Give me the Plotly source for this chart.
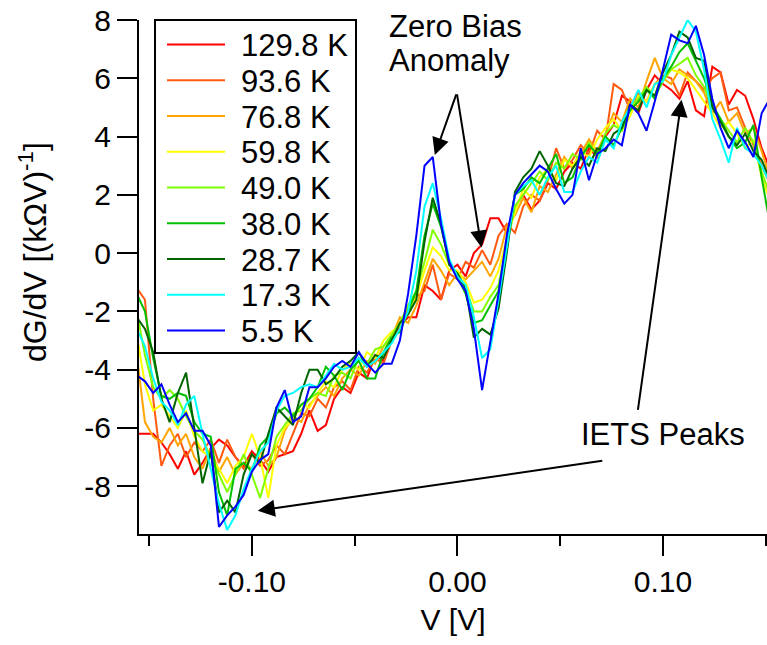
import numpy as np
import plotly.graph_objects as go

# Bias sweep (V), uniform 4 mV steps
bias = np.round(np.arange(-0.156, 0.1521, 0.004), 3)

temps = ["129.8 K", "93.6 K", "76.8 K", "59.8 K", "49.0 K", "38.0 K", "28.7 K", "17.3 K", "5.5 K"]
colors = ["#ff0000", "#ff5a10", "#ffa500", "#ffff00", "#80ff00", "#00c000", "#006400", "#00ffff", "#0000ff"]

# dG/dV [(kOhm V)^-1] for each temperature
g_129_8 = [-6.2, -6.2, -6.2, -6.5, -6.9, -7.4, -6.8, -7.6, -7.2, -6.7, -6.4, -6.6, -7.0, -7.3, -6.8, -7.1,
           -7.5, -7.0, -6.9, -6.8, -6.2, -5.4, -6.1, -5.9, -5.0, -4.6, -4.8, -4.1, -4.3, -3.5, -3.7, -3.0,
           -2.5, -2.2, -2.2, -1.1, -1.3, -1.6, -0.6, -0.4, -0.8, 0.0, 0.3, 1.2, 1.2, 0.7, 1.6, 2.0,
           1.5, 1.8, 2.4, 2.2, 2.8, 3.1, 2.9, 3.6, 3.3, 4.0, 4.4, 5.4, 5.2, 4.8, 5.6, 6.1,
           5.8, 5.6, 5.3, 5.9, 4.9, 4.7, 6.4, 6.2, 5.1, 5.6, 5.4, 4.6, 3.6, 2.9]
g_93_6 = [-1.2, -1.6, -5.0, -7.3, -6.6, -6.2, -7.0, -6.5, -6.8, -6.4, -7.2, -6.4, -7.0, -7.4, -6.9, -7.3,
          -7.1, -6.6, -6.9, -6.2, -5.5, -5.6, -5.0, -5.3, -4.6, -4.4, -4.7, -3.9, -4.1, -3.6, -3.8, -3.0,
          -2.4, -1.9, -1.5, -1.3, -0.4, -1.6, -0.7, -0.9, -0.3, -0.5, 0.1, -0.4, 0.6, 1.0, 0.7, 1.6,
          2.0, 1.8, 2.5, 3.6, 2.9, 3.2, 3.7, 3.4, 4.2, 3.9, 5.8, 5.6, 4.9, 5.5, 5.2, 5.8,
          6.1, 6.0, 5.4, 6.2, 5.9, 5.6, 6.0, 6.2, 4.9, 5.0, 4.3, 3.7, 3.0, 2.4]
g_76_8 = [-3.5, -5.8, -6.3, -6.5, -6.0, -6.6, -6.2, -7.0, -7.4, -6.7, -7.5, -7.0, -7.6, -7.2, -7.4, -6.8,
          -7.3, -7.0, -6.1, -5.6, -5.8, -5.2, -4.9, -4.6, -4.9, -4.3, -4.0, -4.2, -3.7, -3.8, -3.2, -2.9,
          -2.2, -2.4, -1.8, -1.0, -0.2, -0.6, -1.1, -0.7, -0.9, -0.6, -0.3, -0.8, -0.2, 0.9, 1.3, 1.9,
          1.4, 2.3, 2.1, 2.7, 3.3, 2.9, 3.4, 3.9, 3.5, 4.1, 4.8, 4.5, 5.3, 5.0, 5.9, 6.7,
          6.0, 5.8, 6.3, 6.1, 5.9, 5.5, 4.8, 5.2, 4.5, 4.8, 4.1, 4.3, 3.5, 2.6]
g_59_8 = [-2.8, -4.5, -5.4, -5.2, -5.6, -6.0, -5.4, -6.3, -6.8, -7.0, -7.4, -7.9, -7.3, -7.0, -6.2, -7.0,
          -8.4, -6.6, -6.0, -5.7, -5.2, -5.3, -4.8, -4.4, -4.6, -4.0, -3.8, -4.0, -3.4, -3.6, -3.0, -2.7,
          -2.5, -2.1, -1.5, -0.6, 0.2, -0.1, -0.6, -0.6, -1.0, -1.7, -1.6, -1.2, -0.6, 0.5, 1.4, 2.2,
          1.9, 2.6, 2.9, 2.5, 3.2, 3.0, 3.5, 3.3, 3.9, 4.3, 4.6, 4.2, 4.7, 5.4, 5.2, 5.8,
          6.0, 6.3, 6.2, 6.0, 5.6, 5.2, 4.8, 4.3, 4.5, 4.1, 3.6, 3.9, 2.6, 1.8]
g_49_0 = [-2.0, -3.5, -4.6, -5.0, -4.7, -5.0, -5.6, -6.1, -6.4, -7.0, -7.6, -8.2, -7.6, -6.9, -7.6, -8.4,
          -7.4, -6.3, -5.9, -5.5, -5.4, -5.0, -4.8, -4.9, -4.2, -4.1, -4.3, -3.6, -3.8, -3.3, -3.2, -2.8,
          -2.4, -1.8, -1.3, -0.3, 0.8, 0.3, -0.4, -0.7, -1.2, -2.0, -2.0, -1.5, -1.1, 0.3, 1.6, 2.0,
          2.4, 2.8, 2.5, 3.1, 2.9, 3.4, 3.2, 3.8, 3.3, 4.1, 4.4, 4.2, 5.0, 5.3, 5.7, 5.4,
          5.9, 6.3, 6.5, 6.7, 6.1, 5.7, 5.0, 4.6, 4.2, 3.8, 4.3, 3.8, 2.8, 2.0]
g_38_0 = [-1.4, -2.0, -3.6, -4.9, -5.0, -4.8, -4.9, -5.8, -6.2, -6.3, -8.2, -9.0, -7.4, -7.2, -7.5, -6.6,
          -6.3, -5.5, -5.3, -5.6, -5.2, -5.0, -4.6, -3.9, -4.2, -4.7, -4.0, -3.7, -4.3, -4.3, -3.4, -2.9,
          -2.7, -2.0, -1.3, 0.6, 1.7, 0.9, -0.3, -0.8, -1.4, -2.4, -2.3, -1.8, -1.3, 0.3, 2.0, 2.2,
          2.6, 2.4, 2.9, 3.4, 2.4, 2.6, 3.3, 3.7, 3.4, 4.0, 3.7, 4.3, 4.9, 5.2, 5.6, 5.3,
          6.0, 6.4, 6.9, 7.2, 6.6, 6.0, 5.1, 4.6, 4.0, 3.6, 3.8, 4.4, 2.6, 1.0]
g_28_7 = [-2.2, -2.6, -3.4, -5.0, -5.8, -4.8, -4.1, -6.0, -7.9, -6.8, -8.9, -8.5, -8.9, -7.6, -6.9, -7.2,
          -6.2, -5.3, -5.6, -5.9, -4.8, -4.0, -4.0, -4.5, -4.3, -3.9, -3.7, -3.4, -3.9, -3.5, -3.6, -3.0,
          -2.4, -2.1, -1.6, 0.4, 1.9, 1.0, -0.4, -0.7, -1.2, -2.9, -2.6, -2.8, -1.9, 0.0, 2.1, 2.6,
          2.9, 3.5, 3.0, 2.4, 2.3, 2.9, 3.3, 3.0, 3.6, 3.5, 4.1, 4.3, 5.1, 4.9, 5.6, 5.4,
          6.2, 6.8, 7.6, 7.4, 6.7, 6.6, 5.0, 4.5, 4.0, 3.7, 4.1, 3.5, 3.2, 2.5]
g_17_3 = [-2.6, -3.2, -4.3, -5.1, -5.4, -5.9, -5.2, -4.9, -6.2, -7.4, -8.6, -9.5, -9.0, -8.1, -7.4, -6.8,
          -6.5, -5.4, -4.9, -4.8, -4.6, -4.5, -4.6, -4.2, -3.8, -4.0, -3.9, -3.6, -3.9, -3.7, -3.4, -3.1,
          -2.6, -2.0, -0.6, 1.6, 2.4, 1.2, -0.2, -0.8, -1.1, -2.2, -3.6, -3.3, -1.6, 0.2, 2.0, 2.3,
          2.5, 2.0, 2.6, 3.0, 2.1, 2.1, 2.8, 3.3, 3.1, 3.9, 3.6, 4.5, 5.0, 5.6, 5.0, 5.8,
          5.9, 6.8, 7.4, 8.0, 7.6, 6.3, 4.6, 3.9, 3.1, 4.3, 3.6, 3.4, 3.0, 2.4]
g_5_5 = [-4.2, -4.4, -4.8, -4.5, -5.2, -5.8, -5.5, -6.1, -6.1, -6.6, -9.4, -9.0, -8.7, -8.3, -7.5, -7.1,
         -6.9, -5.3, -4.7, -5.8, -5.6, -4.6, -4.6, -4.3, -3.9, -3.7, -3.9, -3.4, -3.8, -4.1, -3.8, -3.8,
         -3.0, -1.4, 0.6, 3.0, 3.3, 1.0, -0.3, -0.9, -1.3, -2.6, -4.7, -3.1, -1.4, 0.6, 2.0, 2.4,
         2.7, 3.0, 2.8, 2.2, 1.7, 2.0, 3.6, 2.5, 3.4, 3.6, 3.9, 3.7, 5.1, 4.8, 4.2, 5.2,
         6.3, 7.5, 7.3, 7.2, 7.8, 6.8, 5.3, 4.3, 3.6, 4.2, 3.8, 3.3, 4.8, 5.3]

series = [g_129_8, g_93_6, g_76_8, g_59_8, g_49_0, g_38_0, g_28_7, g_17_3, g_5_5]

x_tickvals = [-0.10, 0.00, 0.10]
x_ticktext = ["-0.10", "0.00", "0.10"]
y_tickvals = [-8, -6, -4, -2, 0, 2, 4, 6, 8]
y_ticktext = ["-8", "-6", "-4", "-2", "0", "2", "4", "6", "8"]

FONT = "Arial, Liberation Sans, sans-serif"
FS = 30

# Page geometry (pixels) and helpers to place layout items in paper units
W, H = 767, 645
ML, MR, MT, MB = 139, 0, 20, 111
PW, PH = W - ML - MR, H - MT - MB


def px(xp):
    return (xp - ML) / PW


def py(yp):
    return (H - MB - yp) / PH


fig = go.Figure()
for name, col, g in zip(temps, colors, series):
    fig.add_trace(go.Scatter(x=bias, y=g, mode="lines", name=name, showlegend=False,
                             line=dict(color=col, width=2)))

axis_common = dict(showline=True, linecolor="black", linewidth=2, showgrid=False, zeroline=False,
                   ticks="outside", tickwidth=2, tickcolor="black", ticklen=20,
                   tickfont=dict(family=FONT, size=FS, color="black"))

fig.update_xaxes(range=[-0.1549, 0.1506], tickmode="array", tickvals=x_tickvals, ticktext=x_ticktext,
                 minor=dict(ticks="outside", ticklen=10, tickwidth=2, tickcolor="black",
                            tickmode="linear", tick0=0, dtick=0.05),
                 title=dict(text="V [V]", font=dict(family=FONT, size=FS, color="black"), standoff=12),
                 **axis_common)
fig.update_yaxes(range=[-9.64, 8.0], tickmode="array", tickvals=y_tickvals, ticktext=y_ticktext,
                 **axis_common)

arrow = dict(showarrow=True, arrowhead=2, arrowsize=1.7, arrowwidth=2, arrowcolor="black",
             axref="x", ayref="y", text="", standoff=0, startstandoff=0)
ann_font = dict(family=FONT, size=31, color="black")
annotations = [
    # Zero bias anomaly pointers
    dict(x=-0.011, y=3.37, ax=-0.0003, ay=5.5, **arrow),
    dict(x=0.0117, y=0.19, ax=-0.0003, ay=5.5, **arrow),
    # IETS peak pointers
    dict(x=0.109, y=5.26, ax=0.0877, ay=-5.43, **arrow),
    dict(x=-0.0971, y=-8.84, ax=0.0712, ay=-7.12, **arrow),
    dict(x=-0.0345, y=7.78, text="Zero Bias", showarrow=False, xanchor="left", yanchor="middle",
         font=ann_font),
    dict(x=-0.0345, y=6.62, text="Anomaly", showarrow=False, xanchor="left", yanchor="middle",
         font=ann_font),
    dict(x=0.0592, y=-6.23, text="IETS Peaks", showarrow=False, xanchor="left", yanchor="middle",
         font=ann_font),
    # Vertical axis title
    dict(x=px(33), y=py(252), xref="paper", yref="paper", text="dG/dV [(kΩV)<sup>-1</sup>]",
         textangle=-90, showarrow=False, xanchor="center", yanchor="middle",
         font=dict(family=FONT, size=32, color="black")),
]

# Boxed temperature key
shapes = [dict(type="rect", xref="paper", yref="paper", x0=px(155), x1=px(356), y0=py(353), y1=py(20),
               line=dict(color="black", width=2), fillcolor="white", layer="above")]
row0, row_step = 44.5, 35.75
for k, (name, col) in enumerate(zip(temps, colors)):
    yc = row0 + k * row_step
    shapes.append(dict(type="line", xref="paper", yref="paper", x0=px(167), x1=px(225),
                       y0=py(yc), y1=py(yc), line=dict(color=col, width=2), layer="above"))
    annotations.append(dict(x=px(239), y=py(yc + 1), xref="paper", yref="paper", text=name,
                            showarrow=False, xanchor="left", yanchor="middle",
                            font=dict(family=FONT, size=31, color="black")))

fig.update_layout(
    width=W, height=H,
    margin=dict(l=ML, r=MR, t=MT, b=MB),
    paper_bgcolor="white", plot_bgcolor="white",
    font=dict(family=FONT, size=FS, color="black"),
    annotations=annotations,
    shapes=shapes,
    showlegend=False,
)

fig.write_html("out.html")
